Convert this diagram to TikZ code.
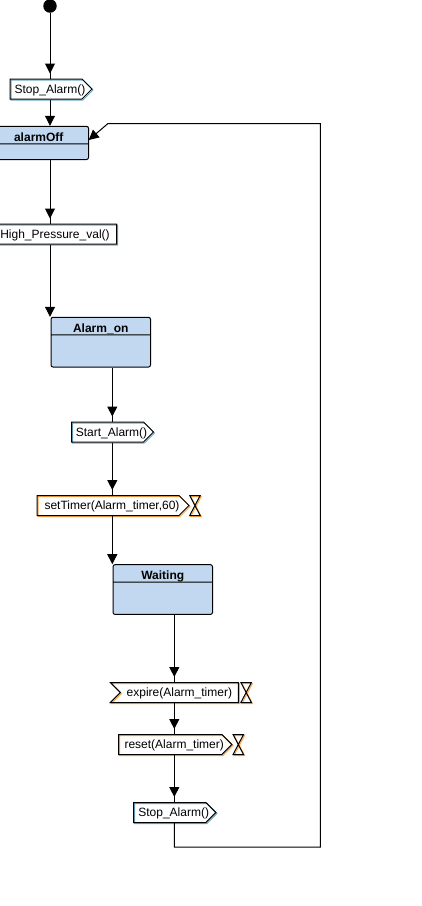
\documentclass[tikz,border=0pt]{standalone}
\usepackage{fontspec}
\setmainfont{Liberation Sans}
\usetikzlibrary{arrows.meta, shapes.symbols, shapes.multipart, positioning, decorations.markings}

\definecolor{statefill}{RGB}{193,216,240}
\definecolor{signalblue}{RGB}{110,170,200}
\definecolor{timerorange}{RGB}{255,165,70}

\tikzset{
  flow/.style={line width=1pt, -{Triangle[length=10pt, width=10pt]}},
  flowgap/.style={line width=1pt, decoration={markings, mark=at position -5pt with {\arrow{Triangle[length=10pt, width=10pt]}}}, postaction={decorate}},
  state/.style={rectangle split, rectangle split parts=2, rounded corners=2pt, draw, line width=1pt, fill=statefill, minimum width=99.5pt, inner ysep=1.8pt, text height=12.9pt, text depth=0pt, font=\fontsize{12}{14}\selectfont\bfseries, anchor=north west},
  sig/.style={draw=#1, signal, line width=1pt, minimum height=20pt, inner xsep=0pt, inner ysep=0pt, text height=9.6pt, text depth=1pt, font=\fontsize{12}{14}\selectfont},
  sigout/.style={sig=black, signal to=east, signal from=nowhere, execute at begin node={\hspace*{4pt}}, execute at end node={\hspace*{-4pt}}, preaction={draw=#1, transform canvas={shift={(1pt,-1pt)}}}},
  sigin/.style={sig=black, signal to=nowhere, signal from=west, preaction={draw=#1, transform canvas={shift={(1pt,-1pt)}}}},
  glass/.style={minimum width=10.5pt, minimum height=20pt, inner sep=0pt, outer sep=0pt}
}

\begin{document}
\begin{tikzpicture}[x=1pt, y=-1pt]
  \useasboundingbox (0,0) rectangle (421,906);

  \coordinate (axisb) at (112.3,0);
  \coordinate (axisc) at (174.3,0);
  \coordinate (retlow) at (320.3,847);
  \coordinate (rettop) at (320.3,123.5);
  \coordinate (retbend) at (108,123.5);
  \coordinate (retin) at (88.7,140);

  \node[circle, fill=black, inner sep=0pt, minimum size=13.5pt] (start) at (50,6) {};

  \node[sigout=signalblue, minimum width=82pt] (stopa) at (46,89) {Stop\_Alarm()};
  \node[state, rectangle split empty part height=11.1pt] (alarmoff) at (-11.5,125.8) {alarmOff\nodepart{two}};
  \node[sigin=signalblue, minimum width=133pt] (highval) at (55,234) {High\_Pressure\_val()};
  \node[state, rectangle split empty part height=27.6pt] (alarmon) at (50.5,316.8) {Alarm\_on\nodepart{two}};
  \node[sigout=signalblue, minimum width=82pt] (starta) at (107.5,432) {Start\_Alarm()};
  \node[sigout=timerorange, minimum width=152pt] (settimer) at (108,505.5) {setTimer(Alarm\_timer,60)};
  \node[glass, right=0pt of settimer.east] (glassa) {};
  \node[state, rectangle split empty part height=27.6pt] (waiting) at (112.5,564.2) {Waiting\nodepart{two}};
  \node[sigin=timerorange, minimum width=128pt] (expire) at (179.4,692.5) {expire(Alarm\_timer)};
  \node[glass, right=2pt of expire.east] (glassb) {};
  \node[sigout=timerorange, minimum width=113.3pt] (resett) at (170.2,744.5) {reset(Alarm\_timer)};
  \node[glass, right=0.5pt of resett.east] (glassc) {};
  \node[sigout=signalblue, minimum width=82.3pt] (stopd) at (169.7,812.5) {Stop\_Alarm()};

  \foreach \g in {glassa, glassb, glassc} {
    \draw[timerorange, line width=1pt, transform canvas={shift={(1pt,-1pt)}}] (\g.north west) -- (\g.north east) -- (\g.south west) -- (\g.south east) -- cycle;
    \draw[line width=1pt] (\g.north west) -- (\g.north east) -- (\g.south west) -- (\g.south east) -- cycle;
  }

  \draw[flowgap] (start) -- (start |- stopa.north);
  \draw[flow] (start |- stopa.south) -- (start |- alarmoff.north);
  \draw[flowgap] (start |- alarmoff.south) -- (start |- highval.north);
  \draw[flow] (start |- highval.south) -- (start |- alarmon.north);
  \draw[flowgap] (axisb |- alarmon.south) -- (axisb |- starta.north);
  \draw[flowgap] (axisb |- starta.south) -- (axisb |- settimer.north);
  \draw[flow] (axisb |- settimer.south) -- (axisb |- waiting.north);
  \draw[flowgap] (axisc |- waiting.south) -- (axisc |- expire.north);
  \draw[flowgap] (axisc |- expire.south) -- (axisc |- resett.north);
  \draw[flowgap] (axisc |- resett.south) -- (axisc |- stopd.north);
  \draw[flow] (axisc |- stopd.south) |- (retlow) -- (rettop) -- (retbend) -- (retin);

\end{tikzpicture}
\end{document}
